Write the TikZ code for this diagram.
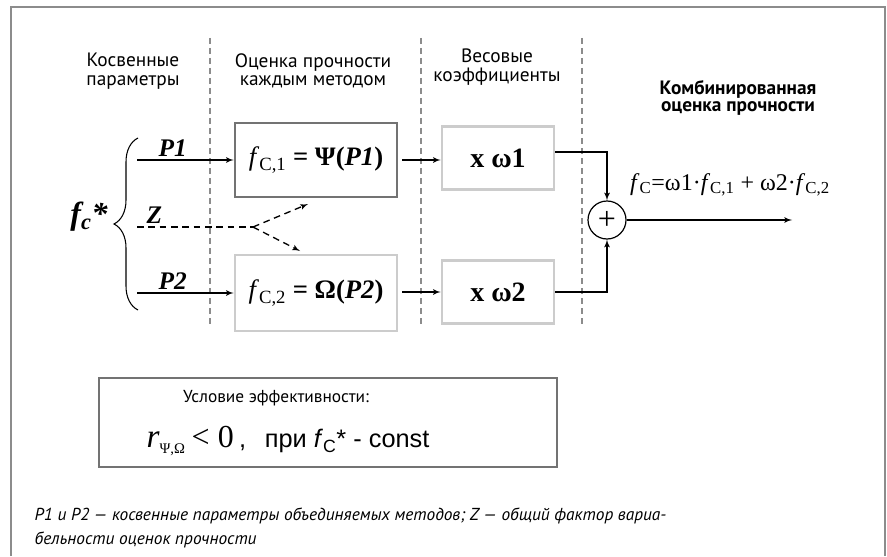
\documentclass[tikz,border=0pt]{standalone}
\usepackage{fontspec}
\setmainfont{Liberation Serif}
\setsansfont{PT Sans}
\newfontfamily\arialfont{Liberation Sans}
\usepackage{tikz}
\usetikzlibrary{arrows,decorations.pathreplacing,positioning}
\definecolor{framegray}{gray}{0.55}
\definecolor{boxdark}{gray}{0.45}
\definecolor{boxlight}{gray}{0.8}
\tikzstyle{block} = [rectangle, draw=boxlight, line width=2pt, inner sep=0pt]
\tikzstyle{darkblock} = [block, draw=boxdark]
\tikzstyle{wblock} = [block, minimum width=84pt, minimum height=47pt, font=\fontsize{21}{21}\selectfont\bfseries]
\tikzstyle{line} = [draw, line width=1pt, -latex']
\tikzstyle{zline} = [line, dash pattern=on 5pt off 3.5pt]
\tikzstyle{sep} = [draw=framegray, line width=0.9pt, dash pattern=on 4.5pt off 3pt]
\tikzstyle{head} = [align=center, font=\sffamily\fontsize{14.5}{14}\selectfont]
\tikzstyle{lab} = [font=\fontsize{19}{19}\selectfont\bfseries\itshape]
\newcommand{\fsub}[1]{\textit{f}\textsubscript{#1}}

\begin{document}
\begin{tikzpicture}[x=0.75pt, y=-0.75pt, auto]
    \useasboundingbox (0,0) rectangle (887,556);
    % Frame and columns
    \draw[framegray, line width=1.5pt] (11,556) -- (11,7) -- (885,7) -- (885,556);
    \foreach \x in {210,421,582}
        \path[sep] (\x,38) -- (\x,325);
    % Headers
    \node[head] (hpar) at (133,71) {Косвенные\\параметры};
    \node[head] (hest) at (313,71) {Оценка прочности\\каждым методом};
    \node[head] (hwgt) at (497,67) {Весовые\\коэффициенты};
    \node[head, font=\sffamily\bfseries\fontsize{14.5}{13}\selectfont] (hcomb) at (738,98)
        {Комбинированная\\оценка прочности};
    % Blocks
    \node[darkblock, minimum width=121.5pt, minimum height=55.5pt, font=\fontsize{20}{20}\selectfont] (psi) at (316,160)
        {\fsub{C,1} \textbf{= Ψ(\textit{P1})}};
    \node[block, minimum width=121.5pt, minimum height=57pt, font=\fontsize{20}{20}\selectfont] (omega) at (316,293)
        {\fsub{C,2} \textbf{= Ω(\textit{P2})}};
    \node[wblock] (w1) at (498,158) {x ω1};
    \node[wblock] (w2) at (498,292) {x ω2};
    \node[circle, draw, line width=0.9pt, minimum size=28.5pt, inner sep=0pt, font=\fontsize{24}{24}\selectfont] (sum) at (607,220) {+};
    \node[font=\fontsize{18}{18}\selectfont] (comb) at (730,185)
        {\fsub{C}=ω1·\fsub{C,1} + ω2·\fsub{C,2}};
    % Inputs
    \node[font=\fontsize{24}{24}\selectfont\bfseries\itshape] (fc) at (89,217) {f\textsubscript{c}*};
    \draw[decorate, decoration={brace, amplitude=18pt, aspect=0.5}, line width=0.8pt] (138,310) -- (138,138);
    \coordinate (p1s) at (137,160);
    \coordinate (p2s) at (137,293);
    \coordinate (zs) at (137,227);
    \coordinate (zv) at (253,227);
    \coordinate (za) at (308,204);
    \coordinate (zb) at (300,251);
    \coordinate (out) at (792,220);
    % Lines
    \path [line] (p1s) -- node[lab, pos=0.37, above, inner sep=2pt] (lp1) {P1} (psi);
    \path [line] (p2s) -- node[lab, pos=0.37, above, inner sep=2pt] (lp2) {P2} (omega);
    \path [draw, line width=1pt, dash pattern=on 5pt off 3.5pt] (zs) -- node[lab, pos=0.15, above, inner sep=2pt] (lz) {Z} (zv);
    \path [zline] (zv) -- (za);
    \path [zline] (zv) -- (zb);
    \path [line, shorten <=3pt] (psi) -- (psi -| w1.west);
    \path [line, shorten <=3pt] (omega.east |- w2) -- (w2);
    \path [line] ([yshift=4.5pt]w1.east) -| (sum.north);
    \path [line] (w2.east) -| (sum.south);
    \path [line] (sum) -- (out);
    % Condition
    \node[rectangle, draw=boxdark, line width=1.2pt, minimum width=343.5pt, minimum height=66.75pt] (cond) at (328,422.5) {};
    \node[font=\sffamily\fontsize{13}{13}\selectfont] (condt) at (276,398) {Условие эффективности:};
    \node (condf) at (288,441)
        {{\fontsize{25}{25}\selectfont\textit{r}}\raisebox{-4pt}{\fontsize{11}{11}\selectfont Ψ,Ω}\hspace{5pt}{\fontsize{24}{24}\selectfont< 0}\hspace{4pt}{\arialfont\fontsize{19}{19}\selectfont,\hspace{14pt}при \fsub{C}* - const}};
    % Note
    \node[anchor=north west, align=left, font=\sffamily\itshape\fontsize{13}{18}\selectfont] (note) at (30,503)
        {P1 и P2 — косвенные параметры объединяемых методов; Z — общий фактор вариа-\\бельности оценок прочности};
\end{tikzpicture}
\end{document}
